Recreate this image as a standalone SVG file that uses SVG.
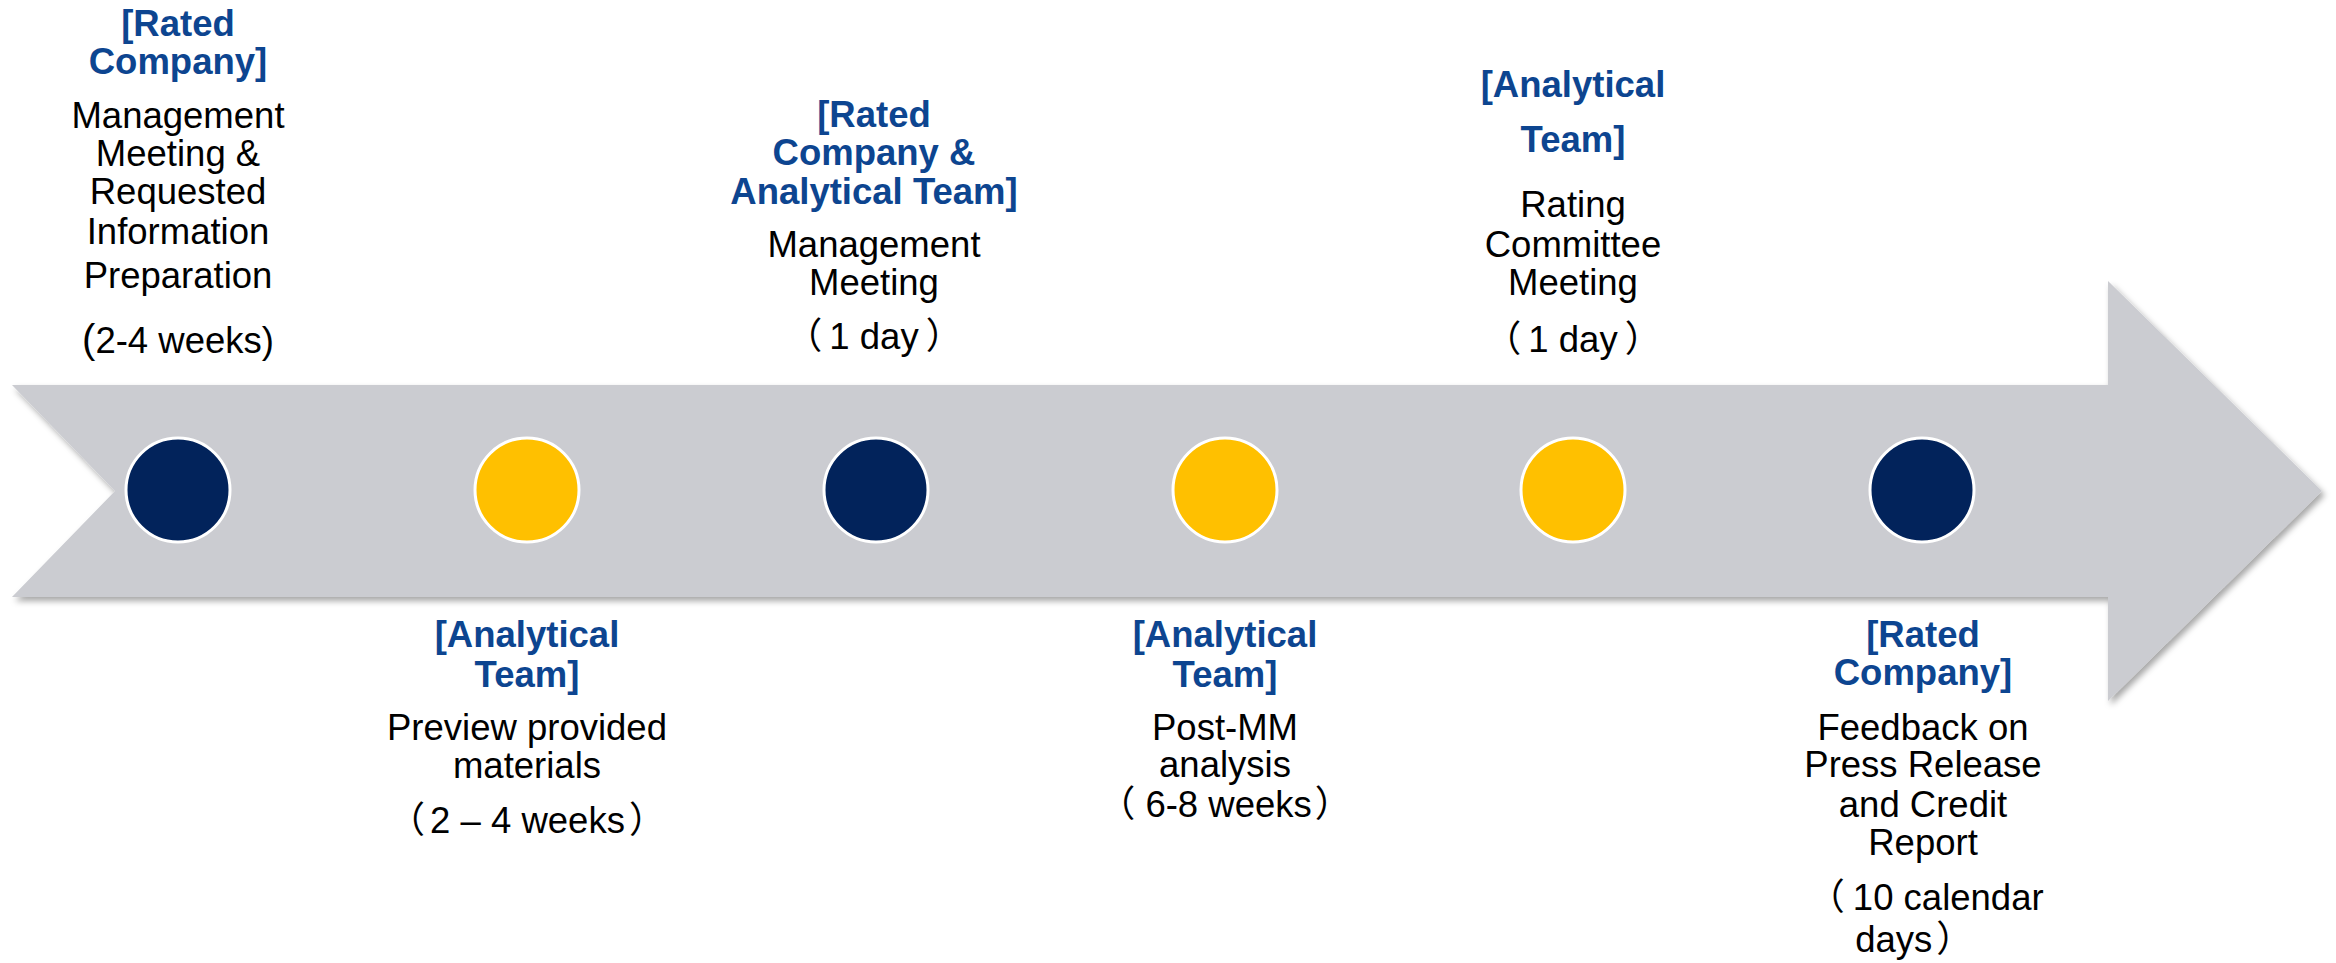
<svg xmlns="http://www.w3.org/2000/svg" width="2336" height="963" viewBox="0 0 2336 963">
  <style>
    .role { font-family: "Liberation Sans", Arial, sans-serif; font-weight: bold; font-size: 36.5px; fill: #0D4590; text-anchor: middle; }
    .desc { font-family: "Liberation Sans", Arial, "Noto Sans CJK SC", sans-serif; font-size: 36.5px; fill: #000000; text-anchor: middle; }
    .dark { fill: #02235B; stroke: #FFFFFF; stroke-width: 3; }
    .gold { fill: #FFC000; stroke: #FFFFFF; stroke-width: 3; }
  </style>
  <defs>
    <filter id="soft-shadow" x="-5%" y="-20%" width="110%" height="140%">
      <feDropShadow dx="3" dy="4" stdDeviation="3" flood-color="#000000" flood-opacity="0.35"/>
    </filter>
  </defs>

  <!-- timeline arrow -->
  <g id="connectors">
    <path d="M12,385 L2108,385 L2108,281 L2322,491 L2108,701 L2108,597 L12,597 L115,491 Z" fill="#CBCCD1" filter="url(#soft-shadow)"/>
  </g>

  <!-- step 1 -->
  <g id="step1">
    <circle class="dark" cx="178" cy="490" r="52"/>
    <text class="role" x="178" y="36">[Rated</text>
    <text class="role" x="178" y="74">Company]</text>
    <text class="desc" x="178" y="128">Management</text>
    <text class="desc" x="178" y="166">Meeting &amp;</text>
    <text class="desc" x="178" y="204">Requested</text>
    <text class="desc" x="178" y="244">Information</text>
    <text class="desc" x="178" y="288">Preparation</text>
    <text class="desc" x="178" y="353"><tspan font-size="40">(</tspan>2-4 weeks)</text>
  </g>

  <!-- step 2 -->
  <g id="step2">
    <circle class="gold" cx="527" cy="490" r="52"/>
    <text class="role" x="527" y="647">[Analytical</text>
    <text class="role" x="527" y="687">Team]</text>
    <text class="desc" x="527" y="740">Preview provided</text>
    <text class="desc" x="527" y="778">materials</text>
    <text class="desc" x="527" y="833">（<tspan dx="5">2 – 4 weeks</tspan><tspan dx="4">）</tspan></text>
  </g>

  <!-- step 3 -->
  <g id="step3">
    <circle class="dark" cx="876" cy="490" r="52"/>
    <text class="role" x="874" y="127">[Rated</text>
    <text class="role" x="874" y="165">Company &amp;</text>
    <text class="role" x="874" y="204">Analytical Team]</text>
    <text class="desc" x="874" y="257">Management</text>
    <text class="desc" x="874" y="295">Meeting</text>
    <text class="desc" x="874" y="349">（<tspan dx="7">1 day</tspan><tspan dx="7">）</tspan></text>
  </g>

  <!-- step 4 -->
  <g id="step4">
    <circle class="gold" cx="1225" cy="490" r="52"/>
    <text class="role" x="1225" y="647">[Analytical</text>
    <text class="role" x="1225" y="687">Team]</text>
    <text class="desc" x="1225" y="740">Post-MM</text>
    <text class="desc" x="1225" y="777">analysis</text>
    <text class="desc" x="1225" y="817">（ 6-8 weeks<tspan dx="3">）</tspan></text>
  </g>

  <!-- step 5 -->
  <g id="step5">
    <circle class="gold" cx="1573" cy="490" r="52"/>
    <text class="role" x="1573" y="97">[Analytical</text>
    <text class="role" x="1573" y="152">Team]</text>
    <text class="desc" x="1573" y="217">Rating</text>
    <text class="desc" x="1573" y="257">Committee</text>
    <text class="desc" x="1573" y="295">Meeting</text>
    <text class="desc" x="1573" y="352">（<tspan dx="7">1 day</tspan><tspan dx="7">）</tspan></text>
  </g>

  <!-- step 6 -->
  <g id="step6">
    <circle class="dark" cx="1922" cy="490" r="52"/>
    <text class="role" x="1923" y="647">[Rated</text>
    <text class="role" x="1923" y="685">Company]</text>
    <text class="desc" x="1923" y="740">Feedback on</text>
    <text class="desc" x="1923" y="777">Press Release</text>
    <text class="desc" x="1923" y="817">and Credit</text>
    <text class="desc" x="1923" y="855">Report</text>
    <text class="desc" x="1926" y="910">（<tspan dx="8">10 calendar</tspan></text>
    <text class="desc" x="1914" y="952">days<tspan dx="4">）</tspan></text>
  </g>
</svg>
